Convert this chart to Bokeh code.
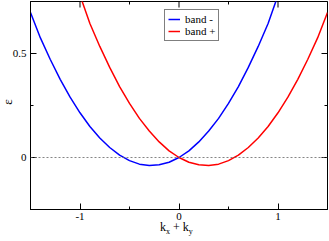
import math
from bokeh.plotting import figure
from bokeh.models import Range1d, LinearAxis, FixedTicker, Span, Legend, LegendItem, Div
from bokeh.embed import file_html
from bokeh.resources import INLINE

# data
k_minus = [-1.5, -1.4, -1.3, -1.2, -1.1, -1.0, -0.9, -0.8, -0.7, -0.6, -0.5, -0.4, -0.3,
           -0.2, -0.1, 0.0, 0.1, 0.2, 0.3, 0.4, 0.5, 0.6, 0.7, 0.8, 0.9, 1.0]
e_minus = [0.697, 0.575, 0.471, 0.376, 0.290, 0.215, 0.149, 0.094, 0.048, 0.011, -0.015,
           -0.032, -0.038, -0.035, -0.023, 0.0, 0.032, 0.075, 0.127, 0.188, 0.260, 0.341,
           0.433, 0.534, 0.644, 0.780]
k_plus = [-1.0, -0.9, -0.8, -0.7, -0.6, -0.5, -0.4, -0.3, -0.2, -0.1, 0.0, 0.1, 0.2, 0.3,
          0.4, 0.5, 0.6, 0.7, 0.8, 0.9, 1.0, 1.1, 1.2, 1.3, 1.4, 1.5]
e_plus = [0.780, 0.644, 0.534, 0.433, 0.341, 0.260, 0.188, 0.127, 0.075, 0.032, 0.0,
          -0.023, -0.035, -0.038, -0.032, -0.015, 0.011, 0.048, 0.094, 0.149, 0.215,
          0.290, 0.376, 0.471, 0.575, 0.697]
x_major = [-1, 0, 1]
x_minor = [-1.5, -0.5, 0.5, 1.5]
y_major = [0, 0.5]
y_minor = [-0.25, 0.25, 0.75]
series_labels = ["band -", "band +"]
x_title = "k<sub>x</sub> + k<sub>y</sub>"
y_title = "ε"

X0, X1 = -1.5, 1.5
Y0, Y1 = -0.25, 0.75
FONT = "'Liberation Serif', 'Times New Roman', serif"

p = figure(width=329, height=241, output_backend="svg", toolbar_location=None,
           x_range=Range1d(X0, X1), y_range=Range1d(Y0, Y1),
           min_border_left=30, min_border_right=2, min_border_top=1, min_border_bottom=32,
           x_axis_location=None, y_axis_location=None)
p.styles = {"position": "absolute", "left": "0px", "top": "0px"}
p.grid.visible = False
p.outline_line_color = "black"
p.outline_line_width = 1
p.background_fill_color = "white"
p.border_fill_color = "white"


def style_axis(ax, ticks, minors, standoff):
    ax.ticker = FixedTicker(ticks=ticks, minor_ticks=minors)
    ax.axis_line_color = "black"
    ax.axis_line_width = 1
    ax.major_tick_in = 6
    ax.major_tick_out = 0
    ax.minor_tick_in = 3
    ax.minor_tick_out = 0
    ax.major_tick_line_color = "black"
    ax.minor_tick_line_color = "black"
    ax.major_label_text_font = FONT
    ax.major_label_text_font_size = "11px"
    ax.major_label_text_color = "black"
    ax.major_label_standoff = standoff


xb = LinearAxis()
style_axis(xb, x_major, x_minor, 3)
xb.major_label_overrides = {-1: "-1", 0: "0", 1: "1"}
p.add_layout(xb, "below")

yl = LinearAxis()
style_axis(yl, y_major, y_minor, 4)
yl.major_label_overrides = {0: "0", 0.5: "0.5"}
p.add_layout(yl, "left")

# mirrored ticks on the top and right edges of the frame
p.scatter(x=x_major, y=[Y1] * len(x_major), marker="dash", angle=math.pi / 2, size=12,
          line_color="black", line_width=1)
p.scatter(x=x_minor, y=[Y1] * len(x_minor), marker="dash", angle=math.pi / 2, size=6,
          line_color="black", line_width=1)
p.scatter(x=[X1] * len(y_major), y=y_major, marker="dash", size=12,
          line_color="black", line_width=1)
p.scatter(x=[X1] * len(y_minor), y=y_minor, marker="dash", size=6,
          line_color="black", line_width=1)

p.add_layout(Span(location=0, dimension="width", line_color="#666666",
                  line_width=0.8, line_dash="2 2"))

r_minus = p.line(k_minus, e_minus, line_color="#0000ff", line_width=1.5)
r_plus = p.line(k_plus, e_plus, line_color="#ff0000", line_width=1.5)

legend = Legend(items=[LegendItem(label=series_labels[0], renderers=[r_minus]),
                       LegendItem(label=series_labels[1], renderers=[r_plus])],
                location=(134, 168))
legend.label_text_font = FONT
legend.label_text_font_size = "11px"
legend.label_text_color = "black"
legend.glyph_width = 12
legend.glyph_height = 10
legend.label_height = 10
legend.label_standoff = 5
legend.padding = 3
legend.spacing = 0
legend.margin = 0
legend.border_line_color = "black"
legend.border_line_width = 1
legend.background_fill_alpha = 1
p.add_layout(legend)

# axis titles as HTML text placed over the page
x_label = Div(text=x_title, width=60, height=20,
              styles={"position": "absolute", "left": "160px", "top": "220px",
                      "font-family": FONT, "font-size": "12px", "line-height": "14px",
                      "color": "black", "white-space": "nowrap", "margin": "0px",
                      "padding": "0px"},
              stylesheets=["sub { font-size: 8px; vertical-align: -3px; line-height: 0; }"])
y_label = Div(text=y_title, width=16, height=16,
              styles={"position": "absolute", "left": "0px", "top": "94px",
                      "font-family": FONT, "font-size": "13px", "line-height": "16px",
                      "text-align": "center", "color": "black", "margin": "0px",
                      "padding": "0px", "transform": "rotate(-90deg)"})

open("out.html", "w").write(file_html([p, x_label, y_label], INLINE))
